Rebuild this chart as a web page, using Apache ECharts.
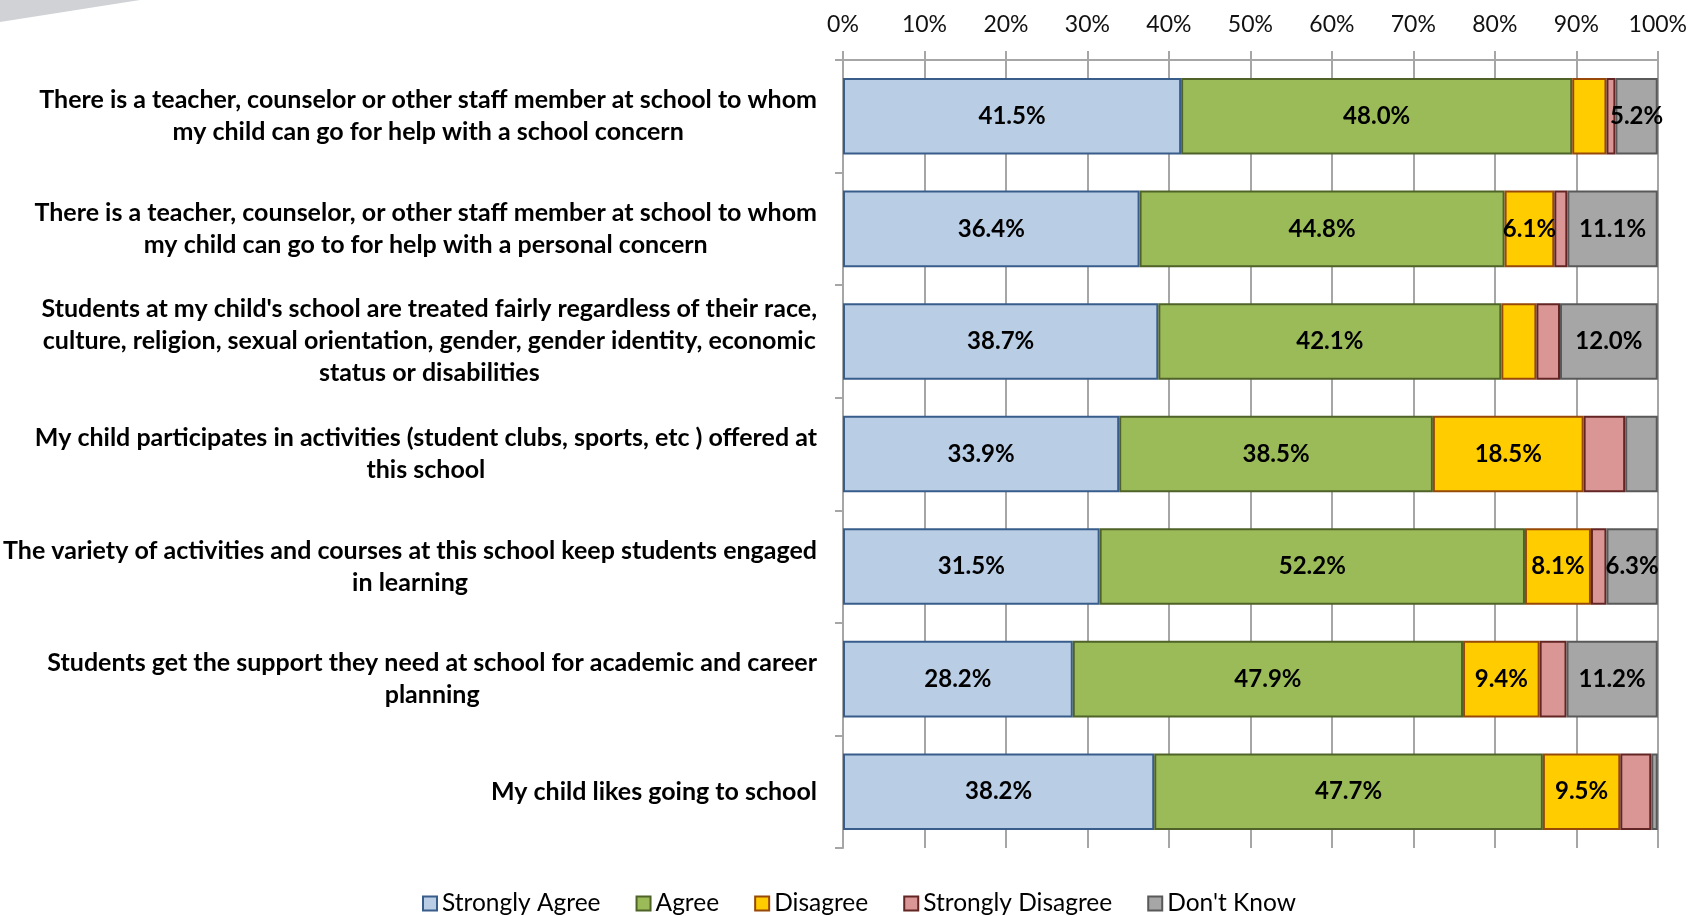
<!DOCTYPE html>
<html>
<head>
<meta charset="utf-8">
<script src="https://cdn.jsdelivr.net/npm/echarts@6/dist/echarts.min.js"></script>
<style>
html,body{margin:0;padding:0;background:#fff;}
#chart{width:1690px;height:916px;}
</style>
</head>
<body>
<div id="chart"></div>
<script>
const categories = [
  'There is a teacher, counselor or other staff member at school to whom\nmy child can go for help with a school concern',
  'There is a teacher, counselor, or other staff member at school to whom\nmy child can go to for help with a personal concern',
  "Students at my child's school are treated fairly regardless of their race,\nculture, religion, sexual orientation, gender, gender identity, economic\nstatus or disabilities",
  'My child participates in activities (student clubs, sports, etc ) offered at\nthis school',
  'The variety of activities and courses at this school keep students engaged\nin learning',
  'Students get the support they need at school for academic and career\nplanning',
  'My child likes going to school'
];
const seriesNames = ['Strongly Agree', 'Agree', 'Disagree', 'Strongly Disagree', "Don't Know"];
const stronglyAgree    = [41.5, 36.4, 38.7, 33.9, 31.5, 28.2, 38.2];
const agree            = [48.0, 44.8, 42.1, 38.5, 52.2, 47.9, 47.7];
const disagree         = [4.2, 6.1, 4.3, 18.5, 8.1, 9.4, 9.5];
const stronglyDisagree = [1.1, 1.6, 2.9, 5.1, 1.9, 3.3, 3.8];
const dontKnow         = [5.2, 11.1, 12.0, 4.0, 6.3, 11.2, 0.8];
const tickValues = [0, 10, 20, 30, 40, 50, 60, 70, 80, 90, 100];

const seriesData = [stronglyAgree, agree, disagree, stronglyDisagree, dontKnow];
const fills   = ['#B9CDE5', '#9BBB59', '#FFCC00', '#D99694', '#A6A6A6'];
const borders = ['#385D8A', '#4F6228', '#984807', '#632523', '#595959'];
const showLabel = [true, true, true, false, true];

const FONT = 'Lato';
const gridColor = '#A6A6A6';

const chart = echarts.init(document.getElementById('chart'));
chart.setOption({
  animation: false,
  textStyle: { fontFamily: FONT },
  graphic: [{
    type: 'polygon',
    shape: { points: [[0, 0], [140, 0], [0, 22]] },
    style: { fill: '#D0D2D5' },
    z: -1
  }],
  grid: { left: 843, right: 30, top: 60, bottom: 68, containLabel: false },
  legend: {
    top: 886,
    left: 417,
    itemWidth: 14,
    itemHeight: 14,
    itemGap: 35,
    icon: 'rect',
    textStyle: { fontFamily: FONT, fontSize: 24.5, color: '#000' },
    data: seriesNames
  },
  xAxis: {
    type: 'value',
    position: 'top',
    min: 0,
    max: 100,
    interval: 10,
    axisLine: { show: true, lineStyle: { color: gridColor, width: 2 } },
    axisTick: { show: true, length: 9, lineStyle: { color: gridColor, width: 2 } },
    splitLine: { show: true, lineStyle: { color: gridColor, width: 2 } },
    axisLabel: {
      margin: 24,
      fontFamily: FONT,
      fontSize: 23,
      color: '#111',
      formatter: function (v) { return tickValues.indexOf(v) >= 0 ? v + '%' : ''; }
    }
  },
  yAxis: {
    type: 'category',
    inverse: true,
    data: categories,
    axisLine: { show: true, lineStyle: { color: gridColor, width: 2 } },
    axisTick: { show: true, alignWithLabel: false, length: 8, lineStyle: { color: gridColor, width: 2 } },
    axisLabel: {
      margin: 26,
      align: 'right',
      formatter: function (v) {
        return v.split('\n').map(function (l) { return '{c|' + l + '}'; }).join('\n');
      },
      rich: {
        c: { fontFamily: FONT, fontSize: 25, fontWeight: 'bold', color: '#000', lineHeight: 32, align: 'center' }
      }
    }
  },
  series: seriesNames.map(function (name, i) {
    return {
      name: name,
      type: 'bar',
      stack: 'total',
      barCategoryGap: '32%',
      data: seriesData[i],
      itemStyle: { color: fills[i], borderColor: borders[i], borderWidth: 2 },
      label: {
        show: showLabel[i],
        position: 'inside',
        fontFamily: FONT,
        fontSize: 24,
        fontWeight: 'bold',
        color: '#000',
        formatter: function (p) { return p.value >= 5 ? p.value.toFixed(1) + '%' : ''; }
      }
    };
  })
});
</script>
</body>
</html>
